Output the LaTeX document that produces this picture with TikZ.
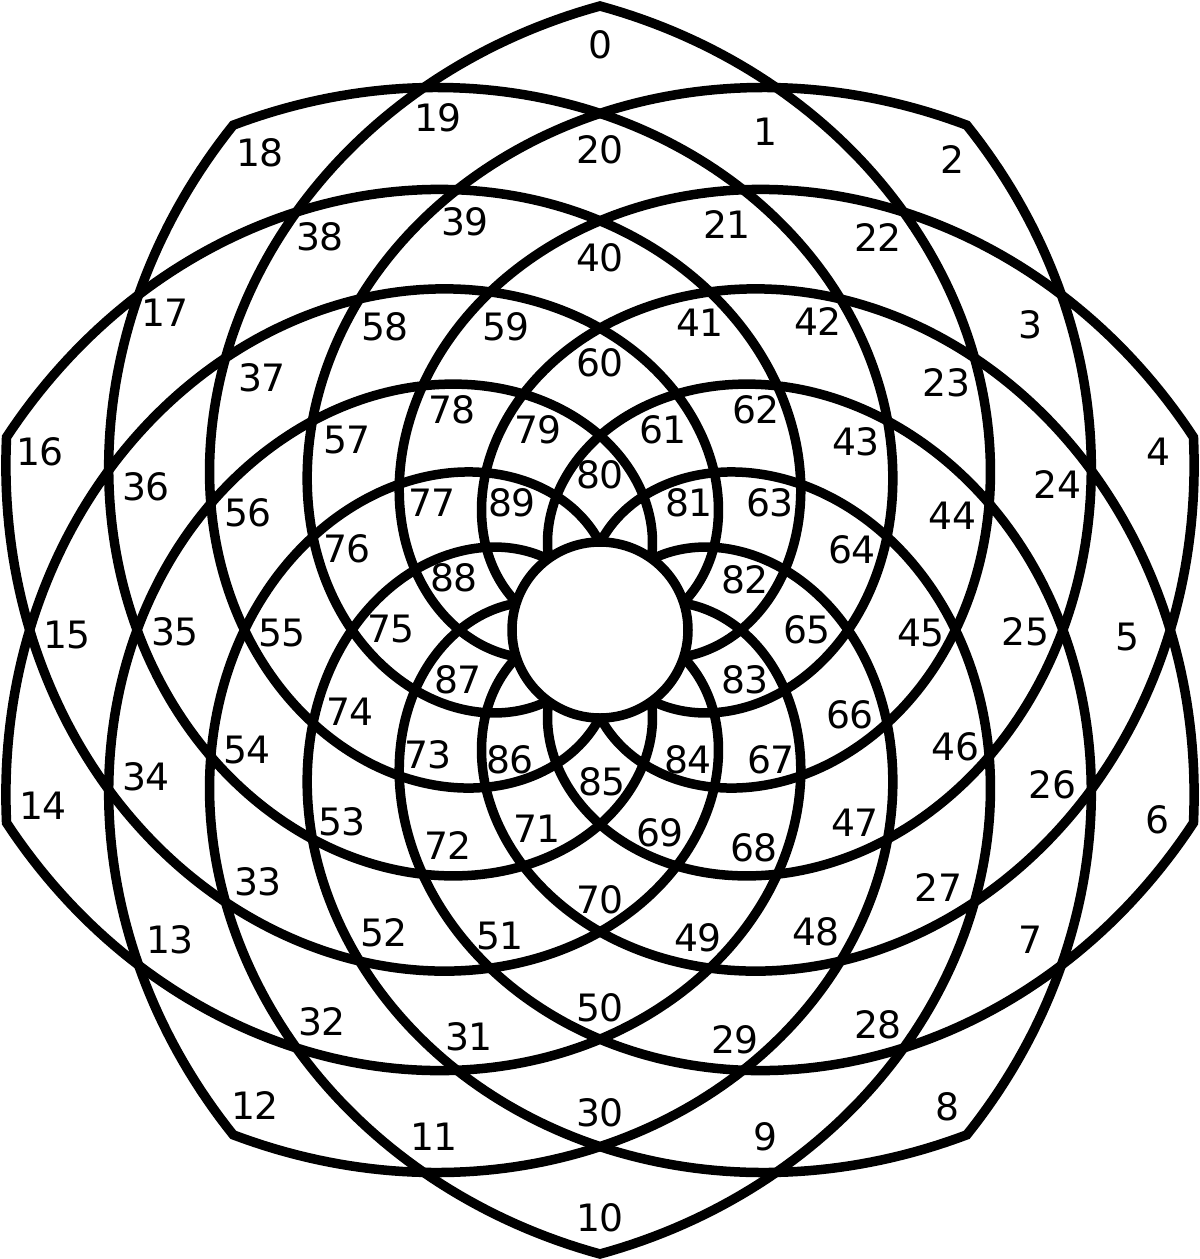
\documentclass[tikz,border=0pt]{standalone}
\usepackage{fontspec}
\setmainfont{DejaVu Sans}
\usepackage{tikz}

\begin{document}
\begin{tikzpicture}[x=1pt,y=-1pt,
                    petal/.style={line width=9.5pt,line join=miter},
                    hub/.style={line width=9.5pt,fill=white},
                    region/.style={font=\fontsize{37.7}{45}\selectfont,inner sep=0pt}]
\useasboundingbox (0,0) rectangle (1200,1259);

% ten spiral petals: outer tip at 90+36k, inner tip on the opposite side
\begin{scope}[shift={(600,630)}]
\foreach \k in {0,...,9}
  \draw[petal] plot[domain=-180:180,samples=361]
    ({90+36*\k+\x}:{624-2.98333*abs(\x)}) -- cycle;
\filldraw[hub] (0,0) circle (88);
\end{scope}

% region numbers
\foreach \n/\x/\y in {0/600/45, 1/765/132, 2/952/160, 3/1030/325, 4/1158/452,
    5/1127/637, 6/1157/820, 7/1030/940, 8/947/1107, 9/765/1137,
    10/600/1218, 11/434/1137, 12/255/1105, 13/170/940, 14/43/806,
    15/67/635, 16/40/452, 17/165/313, 18/260/153, 19/438/118,
    20/600/150, 21/727/225, 22/878/238, 23/946/383, 24/1057/485,
    25/1025/632, 26/1052/785, 27/938/887, 28/878/1025, 29/735/1040,
    30/600/1113, 31/469/1037, 32/322/1022, 33/258/882, 34/146/777,
    35/175/632, 36/146/487, 37/262/378, 38/320/237, 39/465/222,
    40/600/258, 41/700/323, 42/818/322, 43/856/442, 44/952/516,
    45/921/633, 46/955/747, 47/855/823, 48/816/932, 49/698/938,
    50/600/1008, 51/500/936, 52/384/933, 53/342/822, 54/247/750,
    55/282/633, 56/248/513, 57/347/440, 58/385/327, 59/506/327,
    60/600/363, 61/663/430, 62/756/410, 63/770/503, 64/852/550,
    65/807/630, 66/850/715, 67/771/760, 68/754/848, 69/660/833,
    70/600/900, 71/537/829, 72/448/845, 73/428/755, 74/350/712,
    75/391/629, 76/347/549, 77/432/503, 78/452/410, 79/538/430,
    80/600/475, 81/689/503, 82/745/580, 83/745/680, 84/688/760,
    85/602/782, 86/510/760, 87/458/680, 88/454/578, 89/512/503}
  \node[region] (n\n) at (\x,\y) {\n};
\end{tikzpicture}
\end{document}
